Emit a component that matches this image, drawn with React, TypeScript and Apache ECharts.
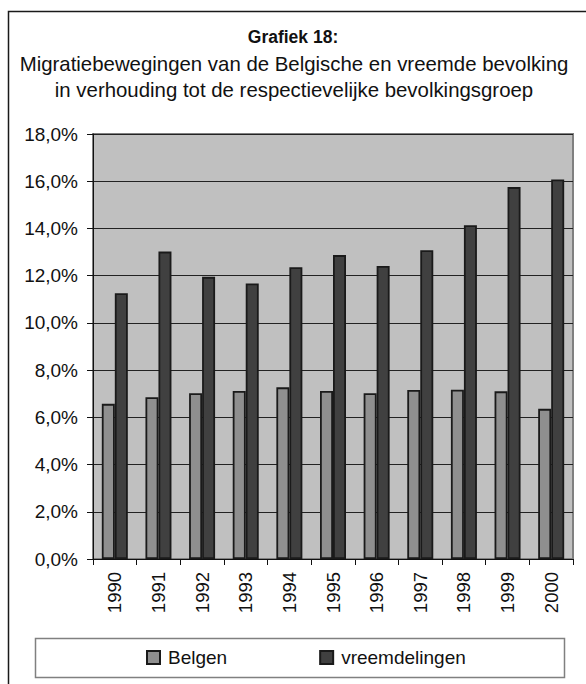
import React, { useEffect, useRef } from "react";
import * as echarts from "echarts";

const years = ["1990", "1991", "1992", "1993", "1994", "1995", "1996", "1997", "1998", "1999", "2000"];
const belgen = [6.57, 6.85, 7.02, 7.12, 7.27, 7.12, 7.02, 7.16, 7.17, 7.1, 6.36];
const vreemdelingen = [11.26, 13.02, 11.95, 11.67, 12.36, 12.87, 12.41, 13.08, 14.14, 15.75, 16.07];
const titleMain = "Grafiek 18:";
const titleLines = [
  "Migratiebewegingen van de Belgische en vreemde bevolking",
  "in verhouding tot de respectievelijke bevolkingsgroep",
];

const FONT = "'Liberation Sans', Arial, sans-serif";

export default function App() {
  const ref = useRef<HTMLDivElement>(null);
  useEffect(() => {
    if (!ref.current) return;
    const chart = echarts.init(ref.current, undefined, { renderer: "svg" });
    chart.setOption({
      animation: false,
      backgroundColor: "#ffffff",
      textStyle: { fontFamily: FONT },
      graphic: [
        {
          type: "rect",
          z: -10,
          shape: { x: 8.5, y: 11.5, width: 640, height: 720 },
          style: { fill: "none", stroke: "#1a1a1a", lineWidth: 1.5 },
        },
        {
          type: "text",
          x: 293,
          y: 37,
          style: {
            text: titleMain,
            fontFamily: FONT,
            fontSize: 17.5,
            fontWeight: "bold",
            fill: "#111",
            align: "center",
            verticalAlign: "middle",
          },
        },
        {
          type: "text",
          x: 294,
          y: 64,
          style: {
            text: titleLines[0],
            fontFamily: FONT,
            fontSize: 20.4,
            fill: "#111",
            align: "center",
            verticalAlign: "middle",
          },
        },
        {
          type: "text",
          x: 294,
          y: 90,
          style: {
            text: titleLines[1],
            fontFamily: FONT,
            fontSize: 20.4,
            fill: "#111",
            align: "center",
            verticalAlign: "middle",
          },
        },
        {
          type: "rect",
          z: 0,
          shape: { x: 35.5, y: 638.5, width: 529, height: 39 },
          style: { fill: "#ffffff", stroke: "#808080", lineWidth: 1.5 },
        },
      ],
      legend: {
        left: 146,
        top: 648,
        padding: 0,
        itemWidth: 13,
        itemHeight: 13,
        itemGap: 92,
        icon: "rect",
        z: 5,
        textStyle: { fontSize: 19, color: "#111", fontFamily: FONT, padding: [0, 0, 0, 3] },
        data: ["Belgen", "vreemdelingen"],
      },
      grid: { left: 93, right: 13, top: 134, bottom: 125, show: true, backgroundColor: "#c0c0c0", borderColor: "#808080", borderWidth: 2 },
      xAxis: {
        type: "category",
        data: years,
        axisLine: { show: true, lineStyle: { color: "#111", width: 1 } },
        axisTick: { show: true, length: 6, lineStyle: { color: "#111" } },
        axisLabel: { rotate: 90, fontSize: 18.5, color: "#111", margin: 13, fontFamily: FONT },
      },
      yAxis: {
        type: "value",
        min: 0,
        max: 18,
        interval: 2,
        axisLine: { show: true, lineStyle: { color: "#111", width: 1 } },
        axisTick: { show: true, length: 6, lineStyle: { color: "#111" } },
        axisLabel: {
          fontSize: 19,
          color: "#111",
          margin: 15,
          fontFamily: FONT,
          formatter: (v: number) => v.toFixed(1).replace(".", ",") + "%",
        },
        splitLine: { show: true, lineStyle: { color: "#222", width: 1 } },
      },
      series: [
        {
          name: "Belgen",
          type: "bar",
          data: belgen,
          barWidth: 13,
          barGap: "0%",
          itemStyle: { color: "#8f8f8f", borderColor: "#1a1a1a", borderWidth: 1.8 },
        },
        {
          name: "vreemdelingen",
          type: "bar",
          data: vreemdelingen,
          barWidth: 13,
          barGap: "0%",
          itemStyle: { color: "#404040", borderColor: "#1a1a1a", borderWidth: 1.8 },
        },
      ],
    });
    return () => chart.dispose();
  }, []);
  return <div ref={ref} style={{ position: "absolute", left: 0, top: 0, width: 586, height: 684 }} />;
}
